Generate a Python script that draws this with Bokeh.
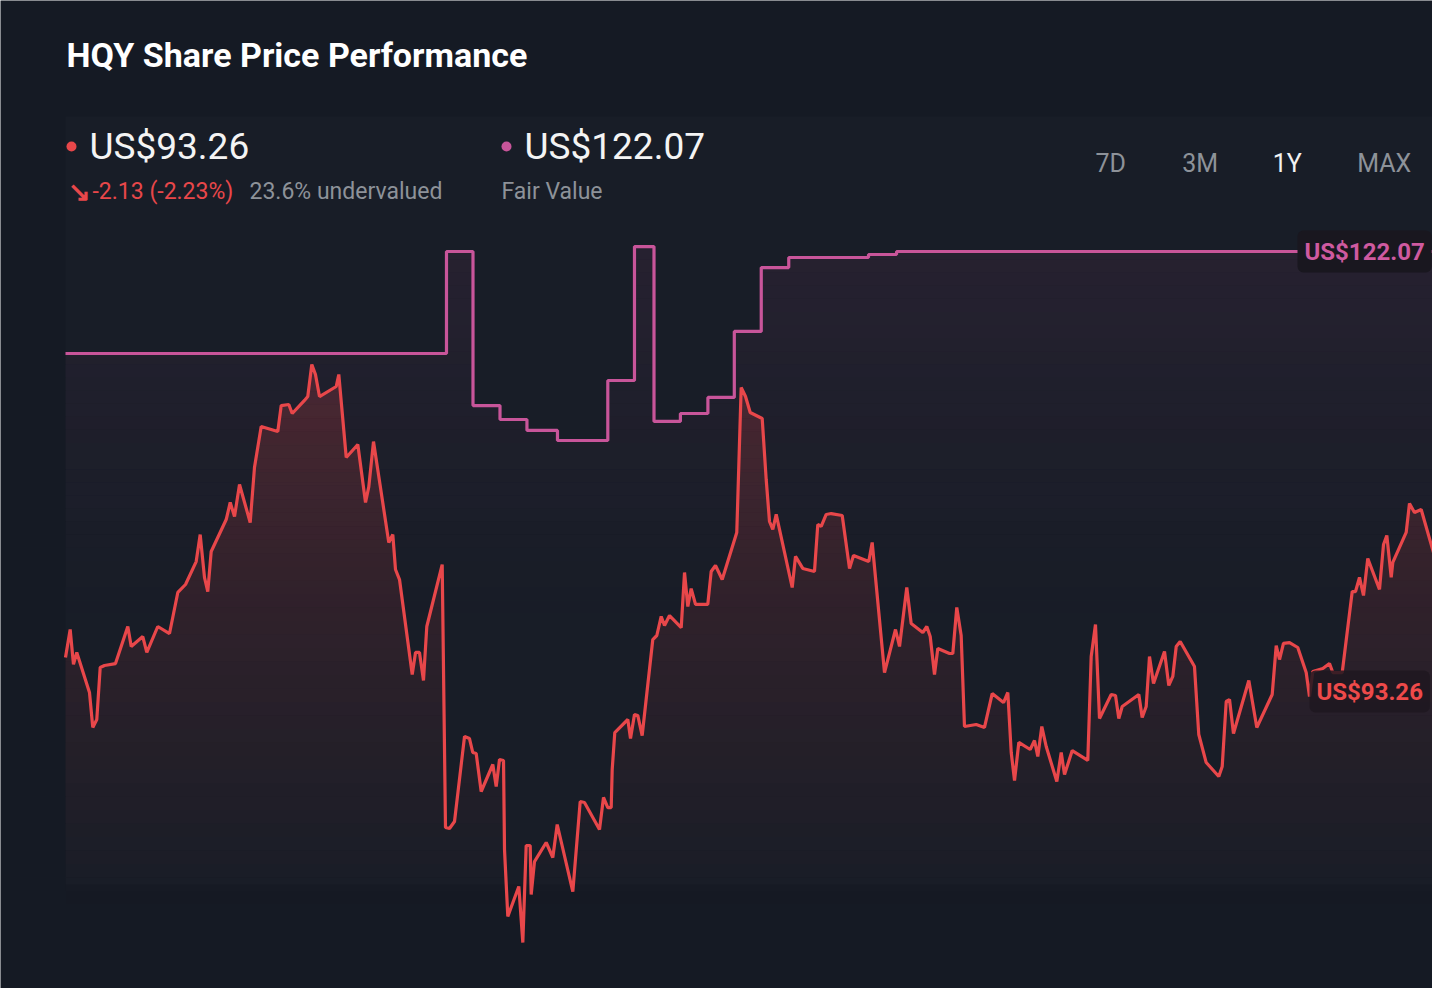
import numpy as np
from bokeh.plotting import figure
from bokeh.models import Range1d, Label
from bokeh.embed import file_html
from bokeh.resources import INLINE

# ---------------- data ----------------
day = [0.0, 0.85, 1.45, 2.05, 4.36, 4.96, 5.69, 6.31, 7.09, 9.09,
       11.33, 11.95, 14.05, 14.78, 16.78, 18.91, 20.42, 21.82, 23.76, 24.49,
       25.27, 25.87, 26.49, 29.22, 29.95, 30.73, 31.64, 33.58, 34.36, 35.58,
       36.78, 38.6, 39.22, 40.6, 41.22, 43.45, 44.05, 44.78, 45.45, 46.18,
       49.22, 49.69, 51.04, 53.15, 54.55, 55.15, 56.0, 58.78, 59.51, 60.0,
       60.73, 63.04, 63.64, 64.36, 65.09, 65.69, 68.49, 69.09, 69.82, 70.73,
       72.55, 73.45, 74.05, 74.67, 75.58, 77.69, 78.31, 78.91, 79.64, 79.82,
       80.42, 82.42, 83.15, 83.76, 84.49, 84.67, 85.27, 87.4, 88.6, 89.4,
       92.24, 93.58, 94.36, 97.09, 97.82, 98.6, 99.22, 99.4, 99.87, 102.24,
       102.73, 103.45, 104.05, 104.85, 106.78, 107.51, 108.31, 108.91, 109.82, 111.95,
       112.55, 113.15, 113.76, 114.55, 116.78, 117.4, 118.18, 119.4, 122.05, 122.85,
       123.64, 124.49, 126.67, 127.4, 128.0, 128.6, 129.22, 132.13, 132.73, 134.05,
       136.18, 136.78, 137.4, 138.31, 139.22, 141.22, 142.55, 143.27, 146.05, 146.67,
       148.91, 150.91, 151.64, 152.96, 153.76, 155.87, 156.6, 157.22, 158.0, 158.6,
       160.73, 161.33, 162.05, 162.85, 163.45, 165.58, 167.09, 168.49, 170.55, 171.33,
       171.95, 172.55, 173.33, 175.4, 176.18, 176.78, 177.51, 178.31, 180.24, 181.04,
       181.64, 183.04, 185.87, 186.49, 187.27, 188.0, 190.13, 190.91, 191.51, 192.13,
       195.15, 195.76, 196.49, 197.09, 197.82, 199.82, 200.6, 201.33, 201.95, 202.67,
       205.27, 206.05, 207.4, 209.69, 210.31, 211.04, 211.64, 212.36, 215.15, 216.6,
       219.4, 220.13, 220.73, 221.45, 222.55, 224.05, 225.58, 226.18, 226.78, 228.6,
       229.82, 230.42, 232.13, 233.95, 234.55, 235.27, 236.0, 236.78, 238.91, 239.64,
       240.24, 241.04, 241.33, 243.76, 244.36, 245.27, 246.49, 248.73, 249.51, 249.82]

price = [95.00, 96.87, 94.54, 95.34, 92.67, 90.34, 90.87, 94.34, 94.47, 94.60,
         97.07, 95.74, 96.40, 95.34, 97.07, 96.60, 99.34, 99.87, 101.40, 103.20,
         100.34, 99.40, 102.07, 104.20, 105.34, 104.40, 106.54, 104.00, 107.67, 110.40,
         110.27, 110.07, 111.80, 111.87, 111.27, 112.14, 112.40, 114.54, 113.87, 112.40,
         113.07, 113.87, 108.34, 109.20, 105.34, 106.40, 109.40, 102.67, 103.20, 100.87,
         100.20, 93.87, 95.34, 95.34, 93.47, 97.07, 101.20, 83.67, 83.60, 84.07,
         89.74, 89.60, 88.67, 88.60, 86.07, 87.87, 86.40, 88.20, 88.14, 82.20,
         77.74, 79.74, 76.00, 82.47, 82.47, 79.20, 81.40, 82.67, 81.67, 83.87,
         79.40, 85.40, 85.34, 83.54, 85.67, 85.00, 85.00, 87.54, 90.00, 90.87,
         89.60, 91.20, 91.14, 89.80, 96.20, 96.47, 97.74, 97.14, 97.80, 97.00,
         100.67, 98.40, 99.60, 98.54, 98.54, 100.74, 101.14, 100.20, 103.34, 113.00,
         112.40, 111.34, 110.94, 106.87, 104.07, 103.54, 104.54, 99.67, 101.74, 100.94,
         100.74, 103.87, 103.74, 104.54, 104.60, 104.47, 100.94, 101.80, 101.40, 102.67,
         94.00, 96.87, 95.74, 99.67, 97.27, 96.67, 97.07, 96.40, 93.87, 95.60,
         95.27, 95.27, 98.34, 96.47, 90.40, 90.54, 90.34, 92.60, 92.00, 92.67,
         88.67, 86.80, 89.34, 88.87, 89.47, 88.40, 90.40, 89.07, 86.74, 88.67,
         87.20, 88.80, 88.14, 95.07, 97.20, 90.94, 92.54, 92.47, 90.94, 91.74,
         92.54, 91.00, 91.74, 95.07, 93.27, 95.40, 93.14, 93.74, 95.74, 96.07,
         94.40, 89.87, 88.00, 87.07, 87.74, 92.07, 92.20, 89.94, 93.47, 90.34,
         92.54, 95.80, 94.87, 95.94, 96.00, 95.67, 94.00, 92.40, 94.07, 94.27,
         94.60, 94.00, 94.00, 99.40, 99.40, 100.34, 99.14, 101.60, 99.54, 102.54,
         103.14, 100.34, 101.34, 103.34, 105.27, 104.67, 104.87, 102.00, 98.40, 98.20]

fv_day = [0.0, 69.27, 74.09, 79.0, 83.9, 89.45, 98.6, 103.45, 107.0, 111.8,
          116.8, 121.6, 126.5, 131.5, 146.0, 151.1]
fv_value = [115.27, 122.07, 111.80, 110.87, 110.14, 109.47, 113.47, 122.40, 110.74, 111.27,
            112.34, 116.74, 121.00, 121.67, 121.87, 122.07]
fv_end_day = 250.5

title = "HQY Share Price Performance"
last_price_text = "US$93.26"
fair_value_text = "US$122.07"
change_text = "-2.13 (-2.23%)"
undervalued_text = "23.6% undervalued"
fair_label = "Fair Value"
periods = ["7D", "3M", "1Y", "MAX"]
active_period = "1Y"

# ---------------- layout helpers (picture pixels -> data) ----------------
W, H = 1432, 988
OFF = 1
def px(X):
    return (X - 66) / 5.5
def py(Y):
    return 138.87 - Y / 15.0

BG = "#151a24"
RED = "#e8474a"
PINK = "#c8559a"
GRAY = "#8d9299"
FONT = "Roboto"

p = figure(width=W, height=H, output_backend="svg", toolbar_location=None,
           x_range=Range1d(px(OFF), px(OFF + W)), y_range=Range1d(py(OFF + H), py(OFF)),
           x_axis_location=None, y_axis_location=None, min_border=0,
           background_fill_color=BG, border_fill_color=BG, outline_line_color=None)
p.grid.visible = False

# subtle chart panel
p.quad(left=[px(66)], right=[px(1450)], top=[py(117)], bottom=[py(885)],
       fill_color="#ffffff", fill_alpha=0.014, line_color=None)

# ---------------- fair value step line + gradient fill ----------------
bounds = fv_day[1:] + [fv_end_day]
fx, fy = [], []
for k in range(len(fv_day)):
    fx += [fv_day[k], bounds[k]]
    fy += [fv_value[k], fv_value[k]]
fx = np.array(fx); fy = np.array(fy)

f_top = max(fv_value) + 0.01
f_bot = py(640)
nbf = 30
flev = np.linspace(f_bot, f_top, nbf + 1)
for i in range(nbf):
    lo, hi = flev[i], flev[i + 1]
    a = 0.085 * ((0.5 * (lo + hi) - f_bot) / (f_top - f_bot)) ** 1.3
    p.varea(x=fx, y1=np.full(len(fx), lo), y2=np.clip(fy, lo, hi),
            fill_color=PINK, fill_alpha=a)

# ---------------- price gradient fill ----------------
d = np.array(day); v = np.array(price)
p_top = v.max() + 0.01
p_bot = py(905)
nb = 40
lev = np.linspace(p_bot, p_top, nb + 1)
xs = list(d)
for i in range(len(d) - 1):
    v0, v1 = v[i], v[i + 1]
    if v0 == v1:
        continue
    lo_, hi_ = min(v0, v1), max(v0, v1)
    for L in lev:
        if lo_ < L < hi_:
            xs.append(d[i] + (L - v0) / (v1 - v0) * (d[i + 1] - d[i]))
xs = np.unique(np.array(xs))
vs = np.interp(xs, d, v)
for i in range(nb):
    lo, hi = lev[i], lev[i + 1]
    a = 0.21 * ((0.5 * (lo + hi) - p_bot) / (p_top - p_bot))
    p.varea(x=xs, y1=np.full(len(xs), lo), y2=np.clip(vs, lo, hi),
            fill_color=RED, fill_alpha=a)

# lines
p.line(fx, fy, line_color=PINK, line_width=3.2)
p.line(d, v, line_color=RED, line_width=3.2)

# ---------------- texts ----------------
def label(X, Y, text, size, color, style="normal", align="left", **kw):
    p.add_layout(Label(x=px(X), y=py(Y), text=text, text_font=FONT,
                       text_font_size=f"{size}px", text_color=color,
                       text_font_style=style, text_align=align,
                       text_baseline="middle", **kw))

label(67, 55, title, 34, "#ffffff", style="bold")

p.scatter(x=[px(72), px(507)], y=[py(147), py(147)], size=10,
          fill_color=[RED, PINK], line_color=None)
label(90, 147, last_price_text, 37, "#f4f4f4")
label(525, 147, fair_value_text, 37, "#f4f4f4")
label(68, 192, "↘", 27, RED, style="bold")
label(93, 192, change_text, 23, RED)
label(250, 192, undervalued_text, 23, GRAY)
label(502, 192, fair_label, 23, GRAY)

period_x = [1096, 1182.7, 1273.3, 1357.7]
for X, t in zip(period_x, periods):
    label(X, 164, t, 25, "#f2f2f2" if t == active_period else GRAY)

label(1298, 252, fair_value_text, 24, "#cf5aa0", style="bold",
      background_fill_color="#19171f", background_fill_alpha=1.0,
      padding=7, border_radius=6)
label(1310, 692, last_price_text, 24, "#ee4a4a", style="bold",
      background_fill_color="#1f1820", background_fill_alpha=0.85,
      padding=7, border_radius=6)

open("out.html", "w").write(file_html(p, INLINE))
